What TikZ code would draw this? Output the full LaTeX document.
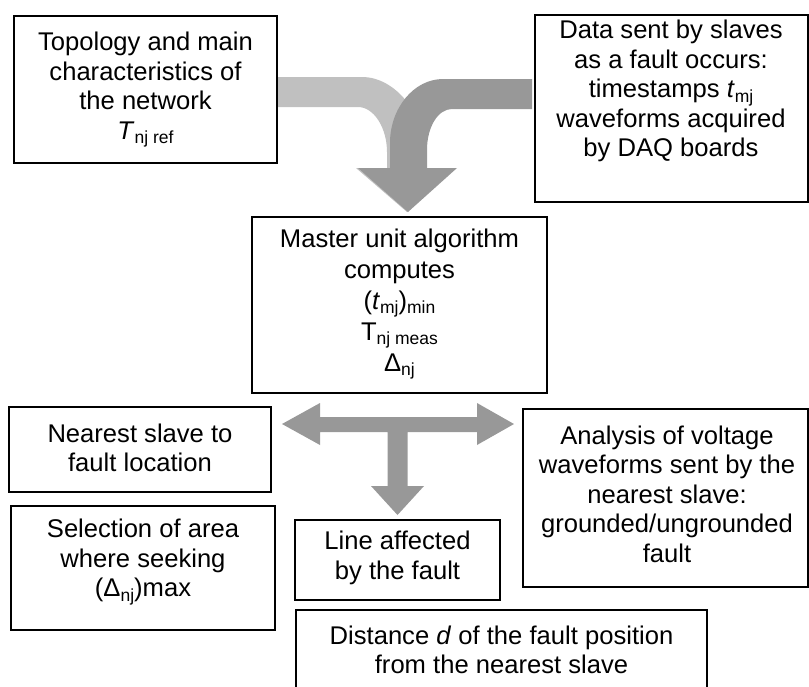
\documentclass[tikz,border=0pt]{standalone}
\usepackage{fontspec}
\setmainfont{Liberation Sans}
\newcommand\sbs[1]{\raisebox{-4.5pt}{\fontsize{17.5}{17.5}\selectfont #1}}
\definecolor{lgray}{RGB}{192,192,192}
\definecolor{dgray}{RGB}{152,152,152}
\begin{document}
\begin{tikzpicture}[x=1pt,y=-1pt,
  box/.style={draw, line width=1.8pt, inner sep=0pt},
  txt/.style={align=center, inner sep=0pt, font=\fontsize{25.6}{29.5}\selectfont}]
\useasboundingbox (0,0) rectangle (809,686);
\clip (0,0) rectangle (809,686);
% frames
\node[box, minimum width=263pt, minimum height=147pt] (b1) at (145.5,89.5) {};
\node[box, minimum width=273pt, minimum height=187pt] (b2) at (671.5,108.5) {};
\node[box, minimum width=295pt, minimum height=176pt] (b3) at (399.5,305) {};
\node[box, minimum width=262pt, minimum height=85pt] (b4) at (140,449.5) {};
\node[box, minimum width=264pt, minimum height=124pt] (b5) at (143,568) {};
\node[box, minimum width=205pt, minimum height=80pt] (b6) at (397.5,560) {};
\node[box, minimum width=411pt, minimum height=100pt] (b7) at (501.5,660) {};
\node[box, minimum width=285pt, minimum height=178pt] (b8) at (665.5,498) {};
% texts
\node[txt] (t1) at (145.5,90) {Topology and main\\characteristics of\\the network\\\textit{T}\sbs{nj ref}};
\node[txt] (t2) at (671,91) {Data sent by slaves\\as a fault occurs:\\timestamps \textit{t}\sbs{mj}\\waveforms acquired\\by DAQ boards};
\node[txt, font=\fontsize{25.6}{31}\selectfont] (t3) at (399.5,304) {Master unit algorithm\\computes\\(\textit{t}\sbs{mj})\sbs{min}\\T\sbs{nj meas}\\Δ\sbs{nj}};
\node[txt] (t4) at (140,448) {Nearest slave to\\fault location};
\node[txt] (t5) at (143,562) {Selection of area\\where seeking\\(Δ\sbs{nj})max};
\node[txt] (t6) at (397.5,558) {Line affected\\by the fault};
\node[txt] (t7) at (501.5,650) {Distance \textit{d} of the fault position\\from the nearest slave};
\node[txt] (t8) at (667,494) {Analysis of voltage\\waveforms sent by the\\nearest slave:\\grounded/ungrounded\\fault};
% merging curved arrows
\fill[lgray] (278,77) -- (362,77) .. controls (396,77) and (424,115) .. (424,150)
  -- (424,168) -- (455,168) -- (407,212) -- (356,168) -- (387,168) -- (387,152)
  .. controls (387,128) and (374,107) .. (358,107) -- (278,107) -- cycle;
\fill[dgray] (532,79) -- (443,79) .. controls (414,79) and (390,108) .. (390,143)
  -- (390,168) -- (358,168) -- (408,212) -- (457,168) -- (427,168) -- (427,150)
  .. controls (427,127) and (438,109) .. (452,109) -- (532,109) -- cycle;
% T-shaped arrow
\fill[dgray] (282,424) -- (320,403) -- (320,417) -- (477,417) -- (477,403) -- (514,424)
  -- (477,445) -- (477,432) -- (407.5,432) -- (407.5,486) -- (424,486) -- (397.5,515)
  -- (371,486) -- (387.5,486) -- (387.5,432) -- (320,432) -- (320,445) -- cycle;
\end{tikzpicture}
\end{document}
